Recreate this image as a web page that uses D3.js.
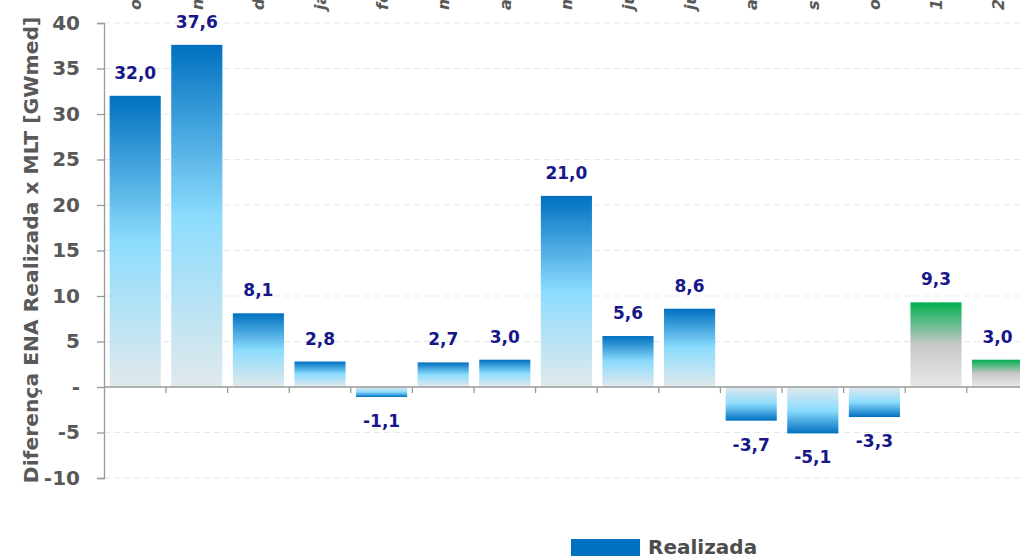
<!DOCTYPE html>
<html>
<head>
<meta charset="utf-8">
<script src="https://cdn.jsdelivr.net/npm/d3@7"></script>
<style>
  body { margin: 0; background: #fff; }
  svg text { font-family: "DejaVu Sans", Verdana, sans-serif; }
</style>
</head>
<body>
<svg id="chart"></svg>
<script>
// data
const categories = ["out/23", "nov/23", "dez/23", "jan/24", "fev/24", "mar/24", "abr/24",
                    "mai/24", "jun/24", "jul/24", "ago/24", "set/24", "out/24", "1ª sem", "2ª sem"];
const realizada = [32.0, 37.6, 8.1, 2.8, -1.1, 2.7, 3.0, 21.0, 5.6, 8.6, -3.7, -5.1, -3.3, 9.3, 3.0];
const previsto = [false, false, false, false, false, false, false, false, false, false, false, false, false, true, true];
const yTicks = [-10, -5, 0, 5, 10, 15, 20, 25, 30, 35, 40];

const W = 1020, H = 556;
const svg = d3.select("#chart").attr("width", W).attr("height", H);

const defs = svg.append("defs");
function grad(id, stops) {
  const g = defs.append("linearGradient").attr("id", id)
    .attr("x1", 0).attr("y1", 0).attr("x2", 0).attr("y2", 1);
  stops.forEach(s => g.append("stop").attr("offset", s[0]).attr("stop-color", s[1]));
}
grad("gPos", [[0, "#0070C0"], [0.5, "#8CDCFD"], [1, "#E1E9EC"]]);
grad("gNeg", [[0, "#E1E9EC"], [0.5, "#8CDCFD"], [1, "#0070C0"]]);
grad("gGreen", [[0, "#00B050"], [0.5, "#C8C8C8"], [1, "#E8E8E8"]]);

// scales
var x = d3.scaleBand()
  .domain(categories)
  .range([104.4, 1028.4])
  .paddingInner(0.17)
  .paddingOuter(0.085);
var y = d3.scaleLinear().domain([-10, 40]).range([478, 23]);
const step = x.step();
const fmt = v => d3.format(".1f")(v).replace(".", ",").replace("\u2212", "-");

// grid
svg.append("g").selectAll("line")
  .data(yTicks.filter(d => d !== 0))
  .enter().append("line")
    .attr("x1", 104).attr("x2", W)
    .attr("y1", d => y(d)).attr("y2", d => y(d))
    .attr("stroke", "#e3e8ea").attr("stroke-width", 1)
    .attr("stroke-dasharray", "6,4");

// y axis
const yAxis = svg.append("g")
  .attr("transform", "translate(104,0)")
  .call(d3.axisLeft(y).tickValues(yTicks).tickSize(7).tickPadding(17)
    .tickFormat(d => d === 0 ? "-" : String(d)));
yAxis.select(".domain").attr("stroke", "#9a9a9a").attr("stroke-width", 1.3);
yAxis.selectAll(".tick line").attr("stroke", "#9a9a9a").attr("stroke-width", 1.3);
yAxis.selectAll("text")
  .attr("fill", "#595959")
  .style("font-size", "20px")
  .style("font-weight", "bold")
  .style("font-family", "DejaVu Sans, Verdana, sans-serif");

// bars
svg.append("g").selectAll("rect")
  .data(realizada)
  .enter().append("rect")
    .attr("x", (d, i) => x(categories[i]))
    .attr("y", d => y(Math.max(0, d)))
    .attr("width", x.bandwidth())
    .attr("height", d => Math.abs(y(d) - y(0)))
    .attr("fill", (d, i) => previsto[i] ? "url(#gGreen)" : (d >= 0 ? "url(#gPos)" : "url(#gNeg)"));

// zero axis
svg.append("line")
  .attr("x1", 104).attr("x2", W)
  .attr("y1", y(0)).attr("y2", y(0))
  .attr("stroke", "#9a9a9a").attr("stroke-width", 1.3);
svg.append("g").selectAll("line")
  .data(categories)
  .enter().append("line")
    .attr("x1", d => x(d) + x.bandwidth() + step * 0.085)
    .attr("x2", d => x(d) + x.bandwidth() + step * 0.085)
    .attr("y1", y(0)).attr("y2", y(0) + 6)
    .attr("stroke", "#9a9a9a").attr("stroke-width", 1.3);

// value labels
svg.append("g").selectAll("text")
  .data(realizada)
  .enter().append("text")
    .attr("x", (d, i) => x(categories[i]) + x.bandwidth() / 2)
    .attr("y", d => d >= 0 ? y(d) - 17 : y(d) + 30)
    .attr("text-anchor", "middle")
    .attr("fill", "#17178a")
    .style("font-size", "17px")
    .style("font-weight", "bold")
    .text(fmt);

// category labels (top, rotated)
svg.append("g").selectAll("text")
  .data(categories)
  .enter().append("text")
    .attr("transform", d => "translate(" + (x(d) + x.bandwidth() / 2 + 6) + ",10) rotate(-90)")
    .attr("text-anchor", "start")
    .attr("fill", "#595959")
    .style("font-size", "16px")
    .style("font-weight", "bold")
    .style("font-style", "italic")
    .text(d => d);

// y title
svg.append("text")
  .attr("transform", "translate(38,250) rotate(-90)")
  .attr("text-anchor", "middle")
  .attr("fill", "#595959")
  .style("font-size", "20.3px")
  .style("font-weight", "bold")
  .text("Diferença ENA Realizada x MLT [GWmed]");

// legend
svg.append("rect").attr("x", 571).attr("y", 539).attr("width", 69).attr("height", 20).attr("fill", "#0070C0");
svg.append("text").attr("x", 648).attr("y", 554)
  .attr("fill", "#4d4d4d")
  .style("font-size", "20px").style("font-weight", "bold")
  .text("Realizada");
</script>
</body>
</html>
